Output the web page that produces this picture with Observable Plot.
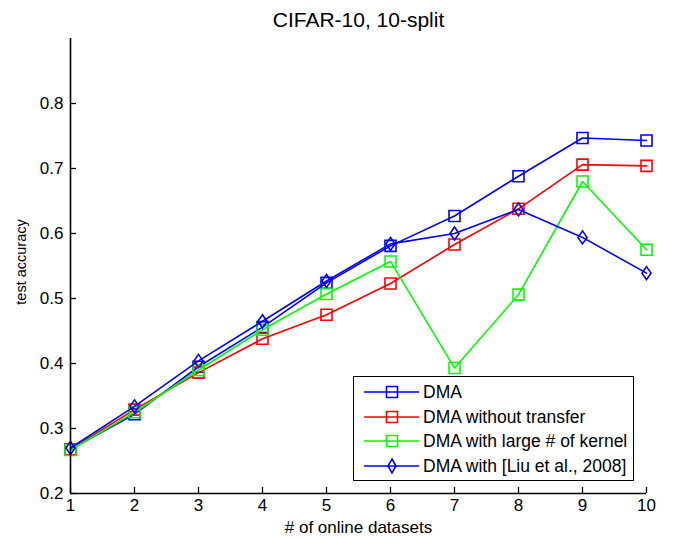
<!DOCTYPE html>
<html>
<head>
<meta charset="utf-8">
<script src="https://cdn.jsdelivr.net/npm/d3@7"></script>
<script src="https://cdn.jsdelivr.net/npm/@observablehq/plot@0.6"></script>
<style>
  body { margin: 0; background: #fff; }
  #wrap { position: relative; width: 673px; height: 541px; font-family: "Liberation Sans", Arial, sans-serif; }
  #legend { position: absolute; left: 353px; top: 376px; width: 279px; height: 103px;
            border: 1.5px solid #000; background: #fff; }
  .row { position: absolute; left: 0; height: 20px; display: flex; align-items: center; }
  .row svg { margin-left: 10px; }
  .row span { font-size: 17.5px; color: #000; margin-left: 3px; white-space: nowrap; }
</style>
</head>
<body>
<div id="wrap"></div>
<script>
const xValues = [1, 2, 3, 4, 5, 6, 7, 8, 9, 10];
const yTicks = [0.2, 0.3, 0.4, 0.5, 0.6, 0.7, 0.8];
const seriesNames = ["DMA", "DMA without transfer", "DMA with large # of kernel", "DMA with [Liu et al., 2008]"];
const seriesColors = ["#0000ff", "#ff0000", "#00ff00", "#0000ff"];
const seriesMarkers = ["square", "square", "square", "diamond"];
const dma            = [0.268, 0.322, 0.395, 0.456, 0.524, 0.581, 0.627, 0.688, 0.747, 0.743];
const dmaNoTransfer  = [0.268, 0.329, 0.386, 0.438, 0.475, 0.523, 0.583, 0.638, 0.706, 0.704];
const dmaLargeKernel = [0.267, 0.325, 0.390, 0.452, 0.507, 0.557, 0.393, 0.506, 0.680, 0.575];
const dmaLiu         = [0.270, 0.334, 0.404, 0.465, 0.527, 0.584, 0.600, 0.637, 0.594, 0.539];
const titleText = "CIFAR-10, 10-split";
const xLabel = "# of online datasets";
const yLabel = "test accuracy";

const allSeries = [dma, dmaNoTransfer, dmaLargeKernel, dmaLiu];

const squareSym = { draw(ctx) { const s = 5.5; ctx.moveTo(-s, -s); ctx.lineTo(s, -s); ctx.lineTo(s, s); ctx.lineTo(-s, s); ctx.closePath(); } };
const diamondSym = { draw(ctx) { const w = 4.5, h = 6.5; ctx.moveTo(0, -h); ctx.lineTo(w, 0); ctx.lineTo(0, h); ctx.lineTo(-w, 0); ctx.closePath(); } };
const symbols = { square: squareSym, diamond: diamondSym };

const marks = [];
allSeries.forEach((vals, i) => {
  const data = xValues.map((x, j) => ({ x, y: vals[j] }));
  marks.push(Plot.line(data, { x: "x", y: "y", stroke: seriesColors[i], strokeWidth: 1.6 }));
  marks.push(Plot.dot(data, { x: "x", y: "y", stroke: seriesColors[i], fill: "none", strokeWidth: 1.6, symbol: symbols[seriesMarkers[i]] }));
});

const chart = Plot.plot({
  width: 673,
  height: 541,
  marginLeft: 70,
  marginRight: 27,
  marginTop: 38,
  marginBottom: 48,
  style: { fontFamily: "'Liberation Sans', Arial, sans-serif", fontSize: "17px", background: "#fff", color: "#000" },
  x: { domain: [1, 10] },
  y: { domain: [0.2, 0.9] },
  marks: [
    // inward tick marks
    Plot.axisX({ ticks: xValues, tickFormat: () => "", tickSize: 6, dy: -6, label: null, strokeWidth: 1.3 }),
    Plot.axisY({ ticks: yTicks, tickFormat: () => "", tickSize: 6, dx: 6, label: null, strokeWidth: 1.3 }),
    // tick labels
    Plot.axisX({ ticks: xValues, tickFormat: d => String(d), tickSize: 0, tickPadding: 5, label: null, fontSize: 17 }),
    Plot.axisY({ ticks: yTicks, tickFormat: d => d.toFixed(1), tickSize: 0, tickPadding: 7, label: null, fontSize: 17 }),
    ...marks,
    Plot.ruleX([1], { stroke: "#000", strokeWidth: 1.6 }),
    Plot.ruleY([0.2], { stroke: "#000", strokeWidth: 1.6 }),
    Plot.text([titleText], { frameAnchor: "top", textAnchor: "middle", lineAnchor: "middle", dy: -18, fontSize: 21, text: d => d }),
    Plot.text([xLabel], { frameAnchor: "bottom", textAnchor: "middle", lineAnchor: "middle", dy: 34, fontSize: 17, text: d => d }),
    Plot.text([yLabel], { frameAnchor: "left", textAnchor: "middle", lineAnchor: "middle", dx: -49, dy: -4, rotate: -90, fontSize: 14.5, text: d => d })
  ]
});

const wrap = document.getElementById("wrap");
wrap.appendChild(chart);

const legend = document.createElement("div");
legend.id = "legend";
const rowCenters = [15, 40, 64, 89];
seriesNames.forEach((name, i) => {
  const row = document.createElement("div");
  row.className = "row";
  row.style.top = (rowCenters[i] - 10) + "px";
  const svgNS = "http://www.w3.org/2000/svg";
  const svg = document.createElementNS(svgNS, "svg");
  svg.setAttribute("width", 56); svg.setAttribute("height", 20);
  const line = document.createElementNS(svgNS, "line");
  line.setAttribute("x1", 0); line.setAttribute("x2", 55); line.setAttribute("y1", 10); line.setAttribute("y2", 10);
  line.setAttribute("stroke", seriesColors[i]); line.setAttribute("stroke-width", 1.6);
  svg.appendChild(line);
  const p = document.createElementNS(svgNS, "path");
  p.setAttribute("d", seriesMarkers[i] === "square" ? "M22.5,4.5h11v11h-11Z" : "M28,3L32,10L28,17L24,10Z");
  p.setAttribute("fill", "none"); p.setAttribute("stroke", seriesColors[i]); p.setAttribute("stroke-width", 1.6);
  svg.appendChild(p);
  row.appendChild(svg);
  const span = document.createElement("span");
  span.textContent = name;
  row.appendChild(span);
  legend.appendChild(row);
});
wrap.appendChild(legend);
</script>
</body>
</html>
